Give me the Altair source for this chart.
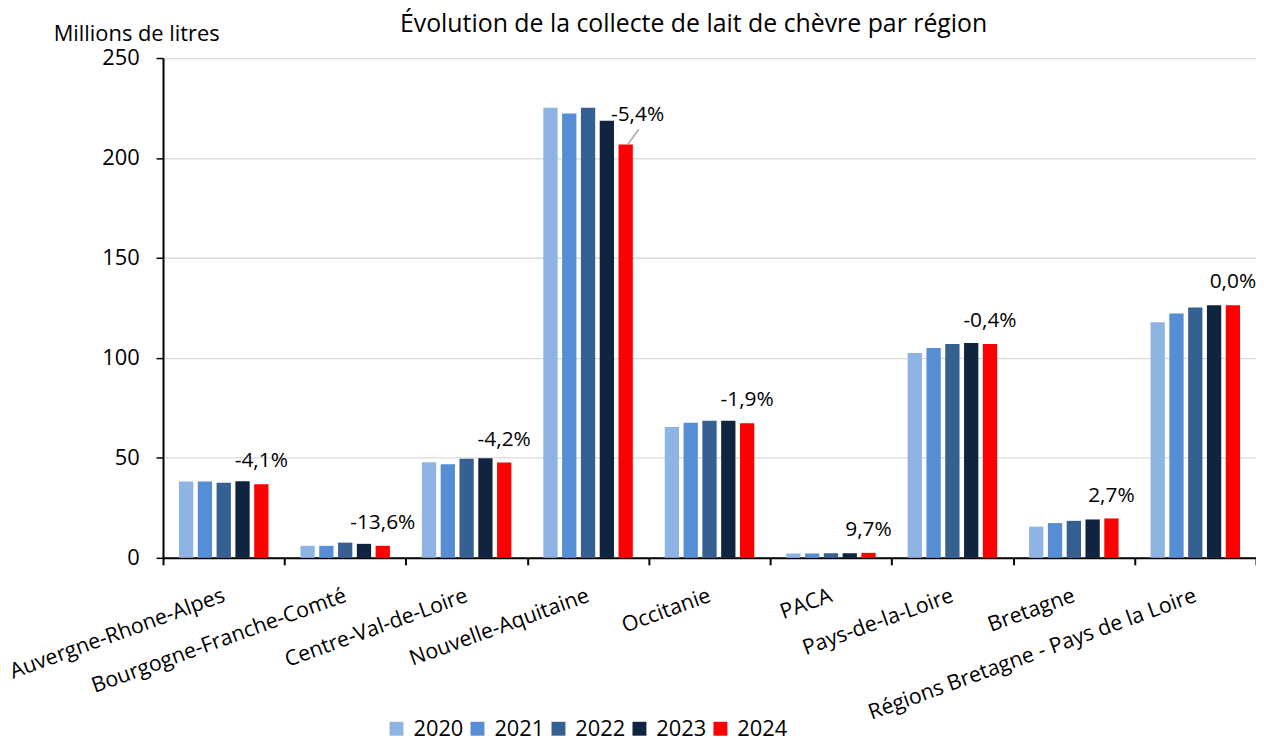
import altair as alt
import pandas as pd

regions = [
    "Auvergne-Rhone-Alpes",
    "Bourgogne-Franche-Comté",
    "Centre-Val-de-Loire",
    "Nouvelle-Aquitaine",
    "Occitanie",
    "PACA",
    "Pays-de-la-Loire",
    "Bretagne",
    "Régions Bretagne - Pays de la Loire",
]
years = ["2020", "2021", "2022", "2023", "2024"]

v2020 = [38.2, 6.0, 47.8, 225.1, 65.4, 2.2, 102.4, 15.6, 117.9]
v2021 = [38.2, 6.0, 46.8, 222.3, 67.6, 2.2, 104.9, 17.4, 122.2]
v2022 = [37.5, 7.6, 49.5, 225.1, 68.6, 2.3, 106.9, 18.5, 125.2]
v2023 = [38.3, 7.0, 49.8, 218.6, 68.6, 2.3, 107.4, 19.2, 126.4]
v2024 = [36.8, 6.0, 47.7, 206.8, 67.3, 2.5, 107.0, 19.7, 126.4]
pct_labels = ["-4,1%", "-13,6%", "-4,2%", "-5,4%", "-1,9%", "9,7%", "-0,4%", "2,7%", "0,0%"]
y_ticks = [0, 50, 100, 150, 200, 250]

colors = ["#8EB4E3", "#558ED5", "#376092", "#10243F", "#FF0000"]

series = [v2020, v2021, v2022, v2023, v2024]
rows = []
for yi, yr in enumerate(years):
    for ri, reg in enumerate(regions):
        rows.append({"region": reg, "year": yr, "value": series[yi][ri], "pct": pct_labels[ri]})
df = pd.DataFrame(rows)

FONT = "Open Sans"

x_enc = alt.X(
    "region:N",
    sort=regions,
    scale=alt.Scale(domain=regions, paddingInner=0, paddingOuter=0),
    axis=alt.Axis(
        title=None,
        labelAngle=-20,
        labelAlign="right",
        labelBaseline="alphabetic",
        labelPadding=36,
        labelOffset=2,
        labelFont=FONT,
        labelFontSize=21.5,
        labelColor="black",
        labelLimit=1000,
        labelOverlap=False,
        tickBand="extent",
        tickSize=7,
        tickColor="black",
        tickWidth=2,
        domainColor="black",
        domainWidth=2,
        grid=False,
    ),
)
xoff_enc = alt.XOffset(
    "year:N", sort=years,
    scale=alt.Scale(domain=years, paddingInner=0.24, paddingOuter=0.85),
)
y_enc = alt.Y(
    "value:Q",
    scale=alt.Scale(domain=[0, 250], nice=False),
    axis=alt.Axis(
        values=y_ticks,
        title="Millions de litres",
        titleAngle=0,
        titleAlign="center",
        titleBaseline="alphabetic",
        titleX=-27,
        titleY=-18,
        titleFont=FONT,
        titleFontSize=22,
        titleFontWeight="normal",
        titleColor="black",
        labelFont=FONT,
        labelFontSize=22,
        labelColor="black",
        labelPadding=17,
        tickSize=7,
        tickColor="black",
        tickWidth=1.5,
        domainColor="black",
        domainWidth=2,
        gridColor="#D9D9D9",
        gridWidth=1.3,
    ),
)

bars = alt.Chart(df).mark_bar().encode(
    x=x_enc,
    xOffset=xoff_enc,
    y=y_enc,
    color=alt.Color(
        "year:N",
        sort=years,
        scale=alt.Scale(domain=years, range=colors),
        legend=alt.Legend(
            title=None,
            orient="none",
            legendX=224,
            legendY=664,
            direction="horizontal",
            symbolType="square",
            symbolSize=196,
            symbolStrokeWidth=0,
            labelFont=FONT,
            labelFontSize=22,
            labelColor="black",
            labelOffset=6,
            columnPadding=2.5,
        ),
    ),
)

labels = alt.Chart(df).transform_filter(
    (alt.datum.year == "2024") & (alt.datum.region != "Nouvelle-Aquitaine")
).mark_text(
    dy=-23, baseline="middle", align="center", font=FONT, fontSize=21, color="black"
).encode(
    x=alt.X("region:N", sort=regions),
    xOffset=alt.XOffset("year:N", sort=years),
    y="value:Q",
    text="pct:N",
)

na_label = alt.Chart(df).transform_filter(
    (alt.datum.year == "2024") & (alt.datum.region == "Nouvelle-Aquitaine")
).mark_text(
    dx=12, dy=-30, baseline="middle", align="center", font=FONT, fontSize=21, color="black"
).encode(
    x=alt.X("region:N", sort=regions),
    xOffset=alt.XOffset("year:N", sort=years),
    y="value:Q",
    text="pct:N",
)

leader = alt.Chart(df).transform_filter(
    (alt.datum.year == "2024") & (alt.datum.region == "Nouvelle-Aquitaine")
).mark_rule(
    color="#A6A6A6", strokeWidth=1.5, xOffset=40, x2Offset=51, y2Offset=-15
).encode(
    x=alt.X("region:N", sort=regions),
    x2=alt.X2("region"),
    y="value:Q",
    y2=alt.Y2("value"),
)

chart = alt.layer(bars, labels, na_label, leader).properties(
    width=1100,
    height=503,
    autosize=alt.AutoSizeParams(type="none"),
    padding={"left": 156, "top": 48, "right": 0, "bottom": 185},
    title=alt.TitleParams(
        "Évolution de la collecte de lait de chèvre par région",
        anchor="middle",
        frame="group",
        dx=-16,
        offset=-35,
        baseline="alphabetic",
        font=FONT,
        fontSize=25,
        fontWeight="normal",
        color="black",
    ),
).configure_view(stroke=None)

chart.save("out.html", embed_options={"renderer": "svg", "actions": False})
